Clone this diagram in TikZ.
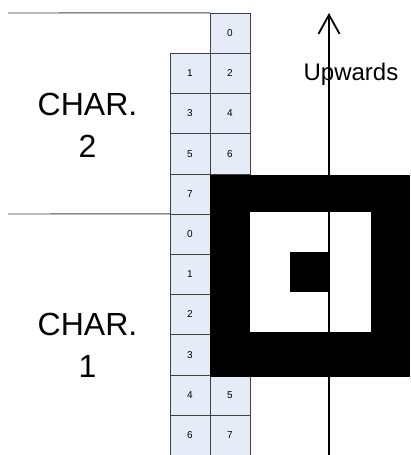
\documentclass[tikz,border=0pt]{standalone}
\usepackage{fontspec}
\setmainfont{Liberation Sans}
\usetikzlibrary{arrows.meta}
\definecolor{cellfill}{HTML}{E6ECF7}
\definecolor{rulegray}{HTML}{404040}
\tikzset{
  cell/.style={draw=rulegray,fill=cellfill,minimum width=40pt,minimum height=40.2pt,inner sep=0pt,font=\fontsize{10}{12}\selectfont},
  charlabel/.style={align=center,font=\fontsize{32}{42}\selectfont}
}

\begin{document}
\begin{tikzpicture}[x=1pt,y=-1pt]
            \useasboundingbox (0,0) rectangle (410,455);
            % bits of char 2
            \node[cell] (c2n0) at (230,33.1) {0};
            \node[cell] (c2n1) at (190,73.3) {1};
            \node[cell] (c2n2) at (230,73.3) {2};
            \node[cell] (c2n3) at (190,113.5) {3};
            \node[cell] (c2n4) at (230,113.5) {4};
            \node[cell] (c2n5) at (190,153.7) {5};
            \node[cell] (c2n6) at (230,153.7) {6};
            \node[cell] (c2n7) at (190,193.9) {7};
            % bits of char 1
            \node[cell] (c1n0) at (190,234.1) {0};
            \node[cell] (c1n1) at (190,274.3) {1};
            \node[cell] (c1n2) at (190,314.5) {2};
            \node[cell] (c1n3) at (190,354.7) {3};
            \node[cell] (c1n4) at (190,394.9) {4};
            \node[cell] (c1n5) at (230,394.9) {5};
            \node[cell] (c1n6) at (190,435.1) {6};
            \node[cell] (c1n7) at (230,435.1) {7};
            % separators
            \coordinate (toprule) at (8,13);
            \coordinate (midrule) at (8,214);
            \draw[rulegray,line width=0.9pt] (toprule)--(c2n0.north west);
            \draw[rulegray,line width=0.9pt] (midrule)--(c1n0.north west);
            \node[charlabel] (char2) at (87.5,125) {CHAR.\\2};
            \node[charlabel] (char1) at (87.5,345) {CHAR.\\1};
            % marker
            \fill[black] (210,175) rectangle (410,377);
            \fill[white] (250,212) rectangle (371,332);
            \fill[black] (290,252) rectangle (330,292);
            \node[anchor=base,font=\fontsize{24}{28}\selectfont,inner sep=0pt] (upw) at (351,80) {Upwards};
            \coordinate (arrbot) at (329,455);
            \coordinate (arrtop) at (329,13);
            \draw[line width=1.8pt,-{Straight Barb[length=19pt,width=21pt]}] (arrbot)--(arrtop);
\end{tikzpicture}
\end{document}
